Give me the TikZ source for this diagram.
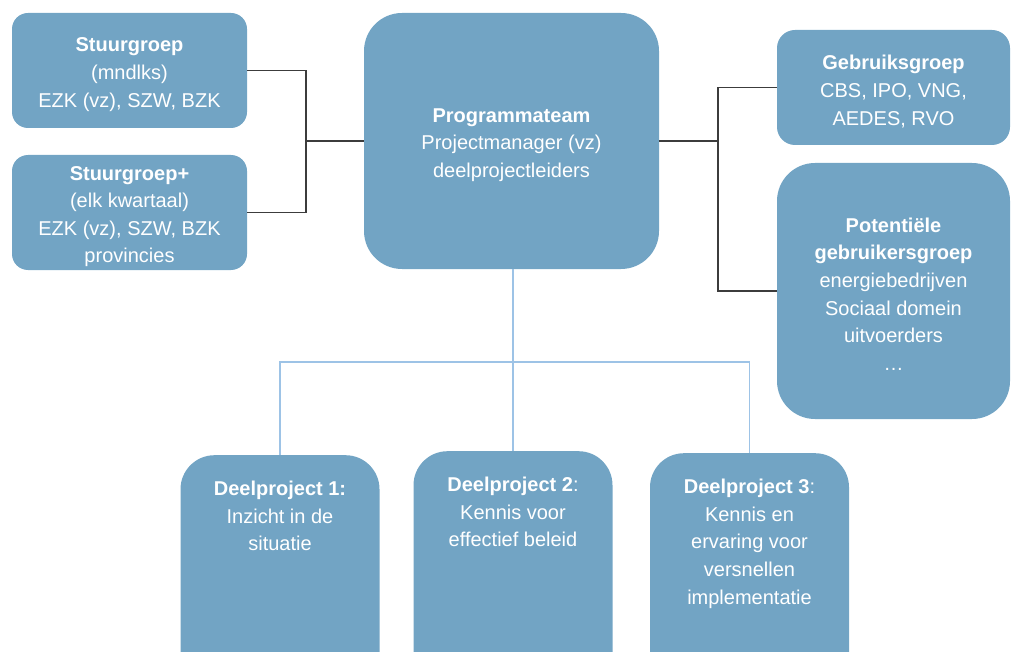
\documentclass[tikz,border=0pt]{standalone}
\usepackage{fontspec}
\setmainfont{Liberation Sans}
\definecolor{boxblue}{RGB}{114,164,196}
\definecolor{linkblue}{RGB}{157,195,230}
\definecolor{linkdark}{RGB}{60,60,60}
\begin{document}
\begin{tikzpicture}[x=1pt,y=-1pt,
  box/.style={fill=boxblue,draw=none,inner sep=0pt},
  txt/.style={text=white,align=center,inner sep=0pt,font=\fontsize{20}{27.6}\selectfont},
  blk/.style={draw=linkdark,line width=1.1pt},
  blu/.style={draw=linkblue,line width=1.6pt}]
\useasboundingbox (0,0) rectangle (1011,652);
\clip (0,0) rectangle (1011,652);
% top left
\node[box,rounded corners=16pt,minimum width=235pt,minimum height=115pt] (sg) at (129.5,70.5) {};
\node[txt] (sgt) at ([yshift=-4pt]sg.center) {\textbf{Stuurgroep}\\(mndlks)\\EZK (vz), SZW, BZK};
\node[box,rounded corners=16pt,minimum width=235pt,minimum height=115pt] (sgp) at (129.5,212.5) {};
\node[txt] (sgpt) at ([yshift=-4pt]sgp.center) {\textbf{Stuurgroep+}\\(elk kwartaal)\\EZK (vz), SZW, BZK\\provincies};
% centre
\node[box,rounded corners=38pt,minimum width=295pt,minimum height=256pt] (pt) at (511.5,141) {};
\node[txt] (ptt) at ([yshift=-4pt]pt.center) {\textbf{Programmateam}\\Projectmanager (vz)\\deelprojectleiders};
% right
\node[box,rounded corners=18pt,minimum width=233pt,minimum height=115pt] (gb) at (893.5,87.5) {};
\node[txt] (gbt) at ([yshift=-4pt]gb.center) {\textbf{Gebruiksgroep}\\CBS, IPO, VNG,\\AEDES, RVO};
\node[box,rounded corners=38pt,minimum width=233pt,minimum height=256pt] (pg) at (893.5,291) {};
\node[txt] (pgt) at ([yshift=-3pt]pg.center) {\textbf{Potentiële}\\\textbf{gebruikersgroep}\\energiebedrijven\\Sociaal domein\\uitvoerders\\\dots};
% bottom
\node[box,rounded corners=34pt,minimum width=199pt,minimum height=260pt,anchor=north] (d1) at (280,455) {};
\node[box,rounded corners=34pt,minimum width=199pt,minimum height=260pt,anchor=north] (d2) at (513,451) {};
\node[box,rounded corners=34pt,minimum width=199pt,minimum height=260pt,anchor=north] (d3) at (749.5,453) {};
\node[txt,anchor=north] (t1) at ([yshift=-26pt]d1.north) {\textbf{Deelproject 1:}\\Inzicht in de\\situatie};
\node[txt,anchor=north] (t2) at ([yshift=-26pt]d2.north) {\textbf{Deelproject 2}:\\Kennis voor\\effectief beleid};
\node[txt,anchor=north] (t3) at ([yshift=-26pt]d3.north) {\textbf{Deelproject 3}:\\Kennis en\\ervaring voor\\versnellen\\implementatie};
% connectors
\coordinate (jl) at (306,141);
\coordinate (jr) at (718,141);
\coordinate (jb) at (513,362);
\draw[blk] (sg.east) -| (jl) |- (sgp.east);
\draw[blk] (jl) -- (pt.west);
\draw[blk] (gb.west) -| (jr) |- (pg.west);
\draw[blk] (pt.east) -- (jr);
\draw[blu] (pt.south -| jb) -- (jb);
\draw[blu] (d1.north) |- (jb) -| (d3.north);
\draw[blu] (jb) -- (d2.north);
\end{tikzpicture}
\end{document}
